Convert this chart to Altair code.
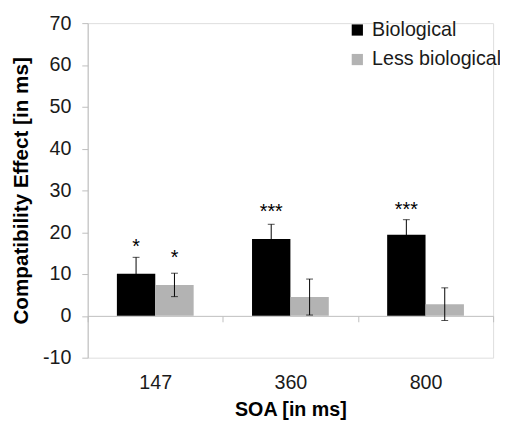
import altair as alt
import pandas as pd

soa = ["147", "360", "800"]
series = ["Biological", "Less biological"]
bio_mean = [10.1, 18.4, 19.4]
bio_err = [3.9, 3.5, 3.6]
less_mean = [7.4, 4.5, 2.8]
less_err = [2.8, 4.3, 3.9]
bio_stars = ["*", "***", "***"]
less_stars = ["*", "", ""]
bio_star_y = [17.6, 26.0, 26.5]
less_star_y = [15.0, None, None]

rows = []
for i, s in enumerate(soa):
    rows.append(dict(soa=s, series=series[0], mean=bio_mean[i], lo=bio_mean[i] - bio_err[i],
                     hi=bio_mean[i] + bio_err[i], star=bio_stars[i], star_y=bio_star_y[i]))
    rows.append(dict(soa=s, series=series[1], mean=less_mean[i], lo=less_mean[i] - less_err[i],
                     hi=less_mean[i] + less_err[i], star=less_stars[i], star_y=less_star_y[i]))
df = pd.DataFrame(rows)

FONT = "Liberation Sans"
GRID = "#bebebe"

x = alt.X("soa:N", sort=soa,
          scale=alt.Scale(paddingInner=0, paddingOuter=0),
          axis=alt.Axis(title="SOA [in ms]", offset=-42.5, tickBand="extent",
                        labelAngle=0, labelPadding=52, labelFontSize=20, labelColor="#1a1a1a",
                        labelFont=FONT, titleFont=FONT, titleFontSize=20, titleFontWeight="bold",
                        titleColor="#000000", titleY=101, titleBaseline="alphabetic",
                        domainColor=GRID, tickColor=GRID, tickSize=6))
xo = alt.XOffset("series:N", sort=series, scale=alt.Scale(paddingOuter=0.76, paddingInner=0))

y_scale = alt.Scale(domain=[-10, 70], nice=False, zero=False)
y = alt.Y("mean:Q", scale=y_scale,
          axis=alt.Axis(title="Compatibility Effect [in ms]", values=list(range(-10, 71, 10)),
                        labelExpr="datum.value + ''",
                        grid=False, labelFontSize=20, labelColor="#1a1a1a", labelFont=FONT,
                        labelPadding=11, titleFont=FONT, titleFontSize=21, titleFontWeight="bold",
                        titleColor="#000000", titleX=-67, titleY=170, titleAngle=-90,
                        titleAlign="center", titleBaseline="middle",
                        domainColor=GRID, tickColor=GRID, tickSize=6))

color = alt.Color("series:N", sort=series,
                  scale=alt.Scale(domain=series, range=["#000000", "#b3b3b3"]),
                  legend=alt.Legend(title=None, orient="none", legendX=264, legendY=-3,
                                    symbolType="square", symbolSize=130, symbolStrokeWidth=0,
                                    labelFontSize=20, labelFont=FONT, labelColor="#1a1a1a",
                                    labelOffset=5, rowPadding=10, padding=0))

base = alt.Chart(df)

bars = base.mark_bar(size=39).encode(x=x, xOffset=xo, y=y, color=color)

rules = base.mark_rule(color="black", strokeWidth=1).encode(
    x=x, xOffset=xo, y=alt.Y("lo:Q", scale=y_scale), y2="hi:Q")
cap_hi = base.mark_tick(color="black", thickness=1, size=7, orient="horizontal").encode(
    x=x, xOffset=xo, y=alt.Y("hi:Q", scale=y_scale))
cap_lo = base.mark_tick(color="black", thickness=1, size=7, orient="horizontal").encode(
    x=x, xOffset=xo, y=alt.Y("lo:Q", scale=y_scale))

stars = base.transform_filter("datum.star != ''").mark_text(
    font=FONT, fontSize=20, color="black", baseline="alphabetic", dy=11).encode(
    x=x, xOffset=xo, y=alt.Y("star_y:Q", scale=y_scale), text="star:N")

chart = alt.layer(bars, rules, cap_hi, cap_lo, stars).properties(
    width=412, height=340,
    padding={"left": 81, "top": 12, "right": 7, "bottom": 63},
    autosize=alt.AutoSizeParams(type="none"),
).configure_view(stroke=None).configure(background="white")

chart.save("out.html", embed_options={"renderer": "svg", "actions": False})
